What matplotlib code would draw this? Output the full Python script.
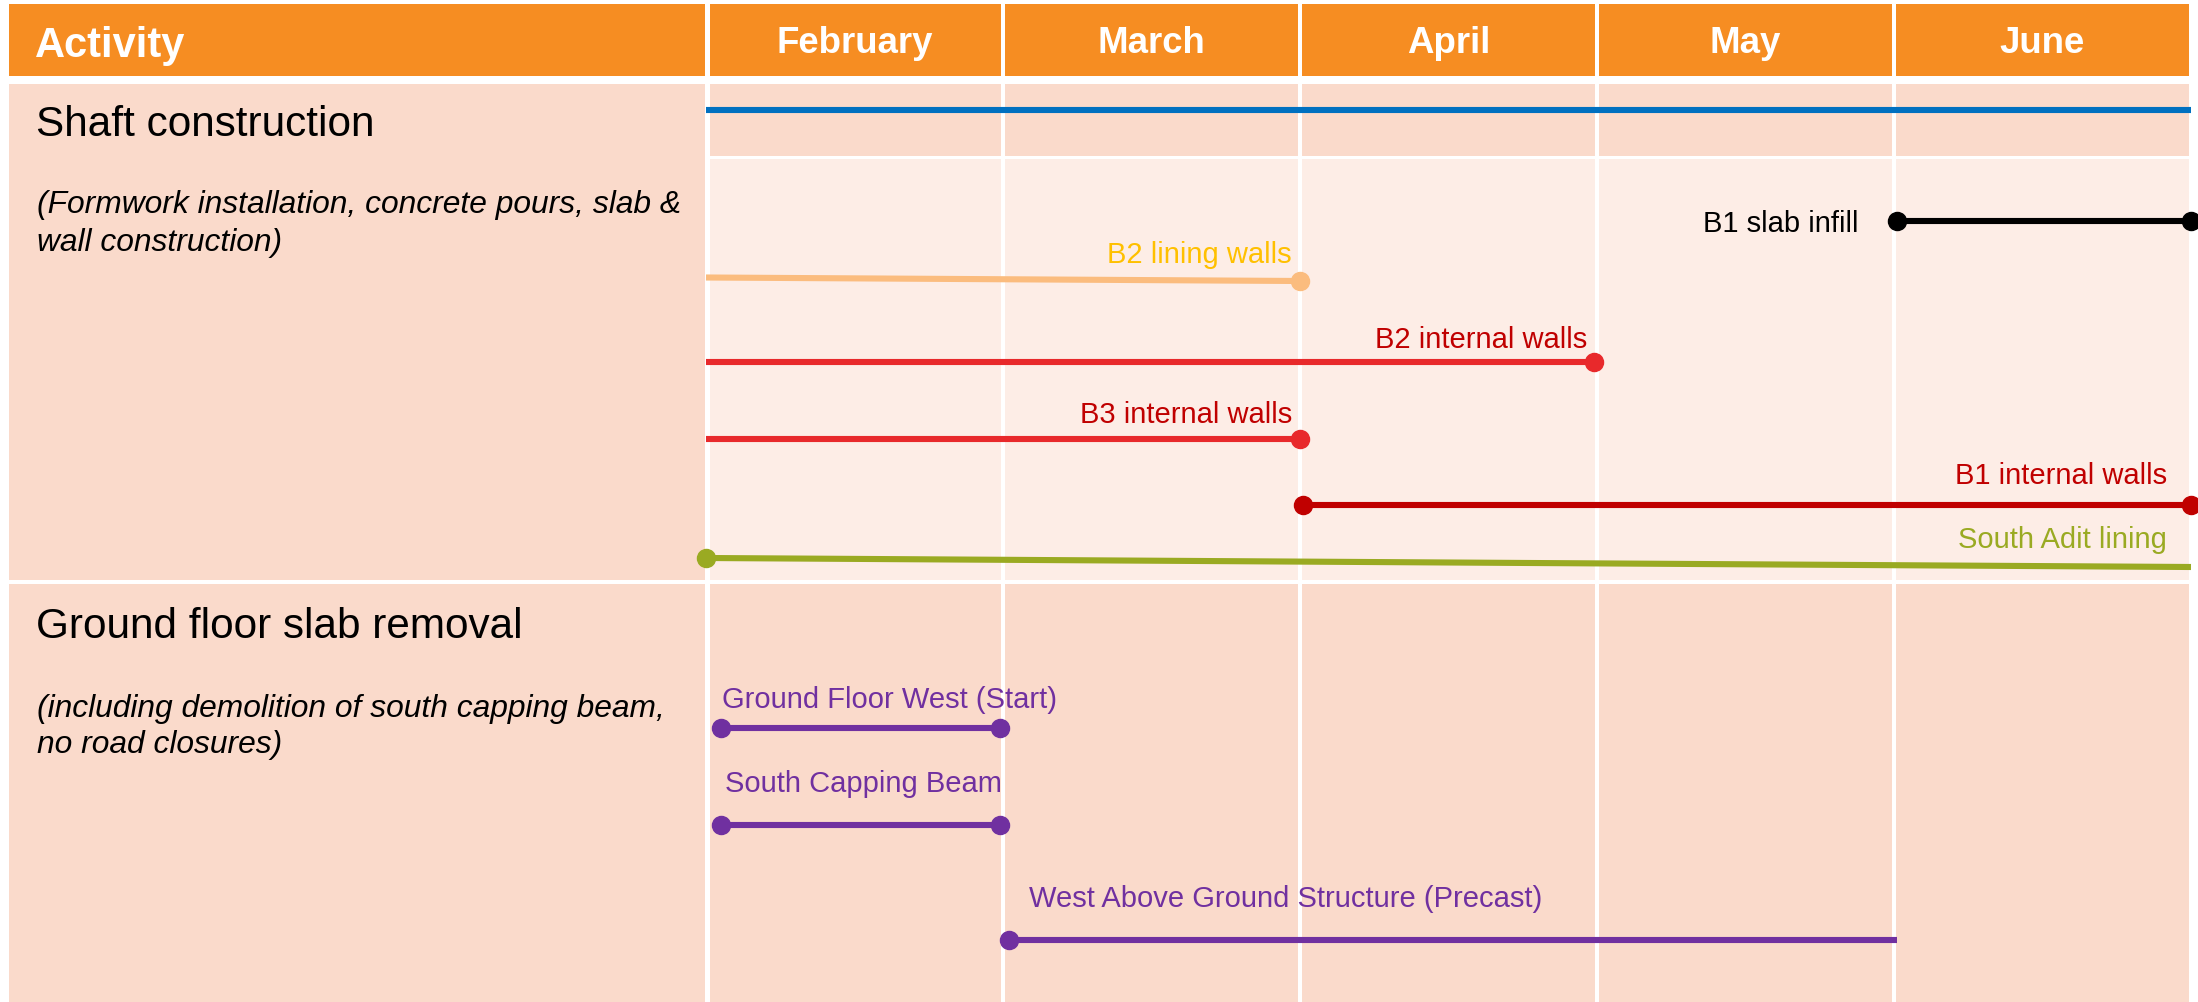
import matplotlib.pyplot as plt
from matplotlib.patches import Rectangle

plt.rcParams['font.family'] = ['Liberation Sans', 'DejaVu Sans']

# months across the top, task bars measured in months from 1 February
months = ['February', 'March', 'April', 'May', 'June']

tasks = ['Shaft construction (overall)', 'B1 slab infill', 'B2 lining walls',
         'B2 internal walls', 'B3 internal walls', 'B1 internal walls',
         'South Adit lining', 'Ground Floor West (Start)', 'South Capping Beam',
         'West Above Ground Structure (Precast)']
starts = [0.0, 4.01, 0.0, 0.0, 0.0, 2.01, 0.0, 0.05, 0.05, 1.02]
ends = [5.0, 5.0, 2.0, 2.99, 2.0, 5.0, 5.0, 0.99, 0.99, 4.01]
show_label = [False, True, True, True, True, True, True, True, True, True]
dots = ['', 'both', 'end', 'end', 'end', 'both', 'start', 'both', 'both', 'start']

groups = ['Shaft construction', 'Ground floor slab removal']
group_notes = [['(Formwork installation, concrete pours, slab &', 'wall construction)'],
               ['(including demolition of south capping beam,', 'no road closures)']]

# ---- layout (pixels from top-left of a 2198 x 1002 canvas) ----
W, H = 2198, 1002
x_tl, x_tr = 706, 2191                 # timeline area
lane_y0 = [110, 221, 277.5, 362, 439, 505, 558, 728, 825, 940]
lane_y1 = [110, 221, 281, 362, 439, 505, 567, 728, 825, 940]
line_col = ['#0070C0', '#000000', '#FBBC7E', '#E8292B', '#E8292B', '#C00000',
            '#9AAA22', '#7030A0', '#7030A0', '#7030A0']
text_col = ['#0070C0', '#000000', '#FFC000', '#C00000', '#C00000', '#C00000',
            '#9AAA22', '#7030A0', '#7030A0', '#7030A0']
# label: anchor end, align, dx, dy (pixels, baseline relative to line)
lab_anchor = ['', 'start', 'end', 'end', 'end', 'end', 'end', 'start', 'start', 'start']
lab_ha = ['', 'right', 'right', 'right', 'right', 'right', 'right', 'left', 'left', 'left']
lab_dx = [0, -38, -8, -7, -8, -24, -24, 1, 4, 20]
lab_dy = [0, 11, -18, -14, -16, -21, -19, -20, -33, -33]

orange = '#F68D22'
salmon = '#FADACB'
pale = '#FDEDE6'
gap = 3.5

fig = plt.figure(figsize=(W / 100, H / 100), dpi=100)
fig.patch.set_facecolor('white')

# left column in pixel coordinates
axl = fig.add_axes([0, 0, x_tl / W, 1])
axl.set_xlim(0, x_tl)
axl.set_ylim(H, 0)
axl.axis('off')

axl.add_patch(Rectangle((9, 4), 696, 72, color=orange, lw=0))
axl.add_patch(Rectangle((9, 84), 696, 496, color=salmon, lw=0))
axl.add_patch(Rectangle((9, 584), 696, 430, color=salmon, lw=0, clip_on=False))
axl.text(35, 57, 'Activity', color='white', fontsize=30, fontweight='bold', va='baseline')

group_base = [136, 638]
note_base = [[213, 251], [717, 753]]
for g, name in enumerate(groups):
    axl.text(36, group_base[g], name, fontsize=30.4, va='baseline')
    for k, line in enumerate(group_notes[g]):
        axl.text(37, note_base[g][k], line, fontsize=22.9, style='italic', va='baseline')

# timeline axes: x in months, y in pixels
ax = fig.add_axes([x_tl / W, 0, (x_tr - x_tl) / W, 1])
ax.set_xlim(0, len(months))
ax.set_ylim(H, 0)
ax.axis('off')

g = gap / (x_tr - x_tl) * len(months) / 2
for i, m in enumerate(months):
    x0, w = i + g, 1 - 2 * g
    if i == 0:
        x0, w = i + 2 * g, 1 - 3 * g
    ax.add_patch(Rectangle((x0, 4), w, 72, color=orange, lw=0, clip_on=False))
    ax.add_patch(Rectangle((x0, 84), w, 72, color=salmon, lw=0, clip_on=False))
    ax.add_patch(Rectangle((x0, 159), w, 421, color=pale, lw=0, clip_on=False))
    ax.add_patch(Rectangle((x0, 584), w, 430, color=salmon, lw=0, clip_on=False))
    ax.text(i + 0.5, 53, m, color='white', fontsize=26.4, fontweight='bold',
            ha='center', va='baseline')

for t in range(len(tasks)):
    xs = [starts[t], ends[t]]
    ys = [lane_y0[t], lane_y1[t]]
    ax.plot(xs, ys, color=line_col[t], lw=4.4, solid_capstyle='butt', clip_on=False, zorder=3)
    if dots[t] in ('start', 'both'):
        ax.plot(xs[0], ys[0], 'o', color=line_col[t], ms=13, clip_on=False, zorder=4)
    if dots[t] in ('end', 'both'):
        ax.plot(xs[1], ys[1], 'o', color=line_col[t], ms=13, clip_on=False, zorder=4)
    if show_label[t]:
        k = 0 if lab_anchor[t] == 'start' else 1
        ax.annotate(tasks[t], (xs[k], ys[k]), xytext=(lab_dx[t] * 0.72, -lab_dy[t] * 0.72),
                    textcoords='offset points', ha=lab_ha[t], va='baseline',
                    color=text_col[t], fontsize=21, annotation_clip=False, zorder=5)

fig.savefig('out.png', dpi=100, facecolor='white')
